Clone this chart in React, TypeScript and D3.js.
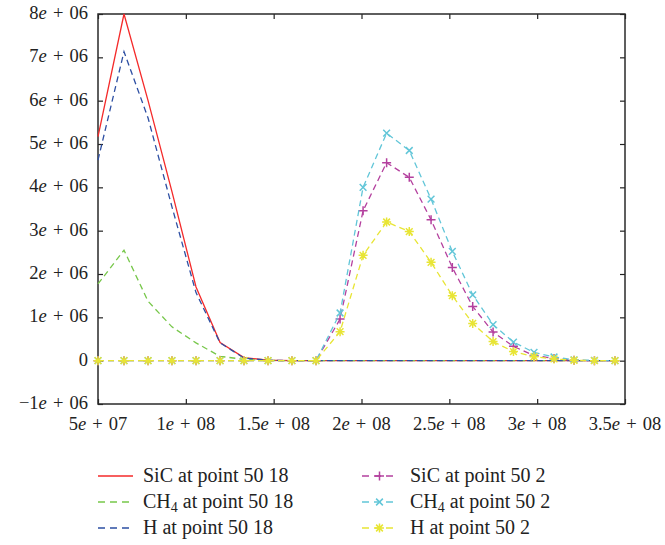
import React, { useEffect, useRef } from "react";
import * as d3 from "d3";

// time axis (seconds), same for every series
const times = [
  5.0e7, 6.48e7, 7.85e7, 9.21e7, 1.058e8, 1.195e8, 1.331e8, 1.468e8, 1.604e8,
  1.741e8, 1.878e8, 2.009e8, 2.143e8, 2.272e8, 2.396e8, 2.517e8, 2.633e8,
  2.749e8, 2.865e8, 2.982e8, 3.096e8, 3.21e8, 3.326e8, 3.443e8,
];

// values in units of 1e6
const sic18 = [5.17, 8.0, 6.0, 3.9, 1.7, 0.42, 0.07, 0.01, 0, 0, 0, 0, 0, 0, 0, 0, 0, 0, 0, 0, 0, 0, 0, 0];
const ch4_18 = [1.77, 2.55, 1.37, 0.78, 0.41, 0.1, 0.03, 0.005, 0, 0, 0, 0, 0, 0, 0, 0, 0, 0, 0, 0, 0, 0, 0, 0];
const h18 = [4.63, 7.13, 5.6, 3.55, 1.57, 0.41, 0.06, 0.01, 0, 0, 0, 0, 0, 0, 0, 0, 0, 0, 0, 0, 0, 0, 0, 0];
const sic2 = [0, 0, 0, 0, 0, 0, 0, 0, 0, 0, 0.96, 3.46, 4.57, 4.23, 3.25, 2.15, 1.25, 0.66, 0.33, 0.12, 0.05, 0.01, 0, 0];
const ch4_2 = [0, 0, 0, 0, 0, 0, 0, 0, 0, 0, 1.1, 4.0, 5.25, 4.85, 3.73, 2.52, 1.52, 0.83, 0.43, 0.19, 0.085, 0.02, 0.005, 0];
const h2 = [0, 0, 0, 0, 0, 0, 0, 0, 0, 0, 0.67, 2.43, 3.2, 2.98, 2.27, 1.5, 0.86, 0.44, 0.21, 0.09, 0.04, 0.01, 0, 0];

const xTicks = [5e7, 1e8, 1.5e8, 2e8, 2.5e8, 3e8, 3.5e8];
const xTickLabels = ["5e + 07", "1e + 08", "1.5e + 08", "2e + 08", "2.5e + 08", "3e + 08", "3.5e + 08"];
const yTicks = [-1, 0, 1, 2, 3, 4, 5, 6, 7, 8];
const yTickLabels = ["\u22121e + 06", "0", "1e + 06", "2e + 06", "3e + 06", "4e + 06", "5e + 06", "6e + 06", "7e + 06", "8e + 06"];

type Series = {
  name: string;
  sub?: string;
  rest: string;
  values: number[];
  color: string;
  dash: string | null;
  marker: "plus" | "cross" | "star" | null;
};

const series: Series[] = [
  { name: "SiC", rest: " at point 50 18", values: sic18, color: "#f42a2a", dash: null, marker: null },
  { name: "CH", sub: "4", rest: " at point 50 18", values: ch4_18, color: "#77c74a", dash: "6,4", marker: null },
  { name: "H", rest: " at point 50 18", values: h18, color: "#2d4fa3", dash: "6,4", marker: null },
  { name: "SiC", rest: " at point 50 2", values: sic2, color: "#b4409e", dash: "6,4", marker: "plus" },
  { name: "CH", sub: "4", rest: " at point 50 2", values: ch4_2, color: "#62c6d8", dash: "6,4", marker: "cross" },
  { name: "H", rest: " at point 50 2", values: h2, color: "#e8e535", dash: "6,4", marker: "star" },
];

const FONT = "'Liberation Serif', 'DejaVu Serif', serif";

function markerPath(kind: string, x: number, y: number, r: number) {
  const p = `M${x - r},${y}L${x + r},${y}M${x},${y - r}L${x},${y + r}`;
  const d = r * 0.75;
  const c = `M${x - d},${y - d}L${x + d},${y + d}M${x - d},${y + d}L${x + d},${y - d}`;
  if (kind === "plus") return p;
  if (kind === "cross") return c;
  return p + c;
}

// mantissa, italic e, exponent
function sciLabel(sel: d3.Selection<SVGTextElement, string, any, any>) {
  sel.each(function (s) {
    const t = d3.select(this);
    const i = s.indexOf("e");
    if (i < 0) {
      t.text(s);
      return;
    }
    t.append("tspan").text(s.slice(0, i));
    t.append("tspan").attr("font-style", "italic").text("e");
    t.append("tspan").text(s.slice(i + 1));
  });
}

const App = () => {
  const ref = useRef<SVGSVGElement>(null);

  useEffect(() => {
    const width = 665;
    const height = 545;
    const marginTop = 14;
    const marginRight = 40;
    const marginBottom = 141;
    const marginLeft = 98;

    const svg = d3.select(ref.current);
    svg.selectAll("*").remove();

    const x = d3.scaleLinear().domain([5e7, 3.5e8]).range([marginLeft, width - marginRight]);
    const y = d3.scaleLinear().domain([-1, 8]).range([height - marginBottom, marginTop]);

    // ticks, all pointing inward
    svg.append("g")
      .attr("transform", `translate(0,${height - marginBottom})`)
      .call(d3.axisBottom(x).tickValues(xTicks).tickSize(-5).tickFormat(() => ""))
      .call((g) => g.select(".domain").remove());
    svg.append("g")
      .attr("transform", `translate(0,${marginTop})`)
      .call(d3.axisTop(x).tickValues(xTicks).tickSize(-5).tickFormat(() => ""))
      .call((g) => g.select(".domain").remove());
    svg.append("g")
      .attr("transform", `translate(${marginLeft},0)`)
      .call(d3.axisLeft(y).tickValues(yTicks).tickSize(-5).tickFormat(() => ""))
      .call((g) => g.select(".domain").remove());
    svg.append("g")
      .attr("transform", `translate(${width - marginRight},0)`)
      .call(d3.axisRight(y).tickValues(yTicks).tickSize(-5).tickFormat(() => ""))
      .call((g) => g.select(".domain").remove());
    svg.selectAll(".tick line").attr("stroke", "#222").attr("stroke-width", 1.2);

    // frame
    svg.append("rect")
      .attr("x", marginLeft)
      .attr("y", marginTop)
      .attr("width", width - marginRight - marginLeft)
      .attr("height", height - marginBottom - marginTop)
      .attr("fill", "none")
      .attr("stroke", "#2a2a2a")
      .attr("stroke-width", 1.5);

    // tick labels
    svg.append("g")
      .selectAll("text")
      .data(xTickLabels)
      .join("text")
      .attr("x", (_, i) => x(xTicks[i]))
      .attr("y", height - marginBottom + 26)
      .attr("text-anchor", "middle")
      .attr("font-family", FONT)
      .attr("font-size", 18.5)
      .attr("word-spacing", 1.5)
      .attr("fill", "#222")
      .style("white-space", "pre")
      .call(sciLabel as any);
    svg.append("g")
      .selectAll("text")
      .data(yTickLabels)
      .join("text")
      .attr("x", marginLeft - 10)
      .attr("y", (_, i) => y(yTicks[i]) + 5)
      .attr("text-anchor", "end")
      .attr("font-family", FONT)
      .attr("font-size", 18.5)
      .attr("word-spacing", 1.5)
      .attr("fill", "#222")
      .style("white-space", "pre")
      .call(sciLabel as any);

    const lineGen = d3
      .line<number>()
      .x((_, i) => x(times[i]))
      .y((d) => y(d));

    const plot = svg.append("g");
    series.forEach((s) => {
      plot.append("path")
        .datum(s.values)
        .attr("d", lineGen)
        .attr("fill", "none")
        .attr("stroke", s.color)
        .attr("stroke-width", 1.3)
        .attr("stroke-dasharray", s.dash);
      if (s.marker) {
        plot.append("g")
          .selectAll("path")
          .data(s.values)
          .join("path")
          .attr("d", (d, i) => markerPath(s.marker as string, x(times[i]), y(d), 4.5))
          .attr("stroke", s.color)
          .attr("stroke-width", 1.5)
          .attr("fill", "none");
      }
    });

    // legend, two columns of three
    const legend = svg.append("g");
    series.forEach((s, i) => {
      const col = Math.floor(i / 3);
      const row = i % 3;
      const lx = col === 0 ? 98 : 362;
      const ly = 476 + row * 26;
      legend.append("line")
        .attr("x1", lx)
        .attr("x2", lx + 35)
        .attr("y1", ly)
        .attr("y2", ly)
        .attr("stroke", s.color)
        .attr("stroke-width", 1.3)
        .attr("stroke-dasharray", s.dash ? "7,5" : null);
      if (s.marker) {
        legend.append("path")
          .attr("d", markerPath(s.marker, lx + 17.5, ly, 4.5))
          .attr("stroke", s.color)
          .attr("stroke-width", 1.5);
      }
      const t = legend.append("text")
        .attr("x", lx + (col === 0 ? 45 : 48))
        .attr("y", ly + 6)
        .attr("font-family", FONT)
        .attr("font-size", 20)
        .attr("fill", "#222")
        .style("white-space", "pre");
      t.append("tspan").text(s.name);
      if (s.sub) {
        t.append("tspan").attr("font-size", 14).attr("dy", 4).text(s.sub);
        t.append("tspan").attr("dy", -4).text(s.rest);
      } else {
        t.append("tspan").text(s.rest);
      }
    });
  }, []);

  return (
    <svg
      ref={ref}
      width={665}
      height={545}
      style={{ position: "absolute", left: 0, top: 0, background: "#fff" }}
    />
  );
};

export default App;
